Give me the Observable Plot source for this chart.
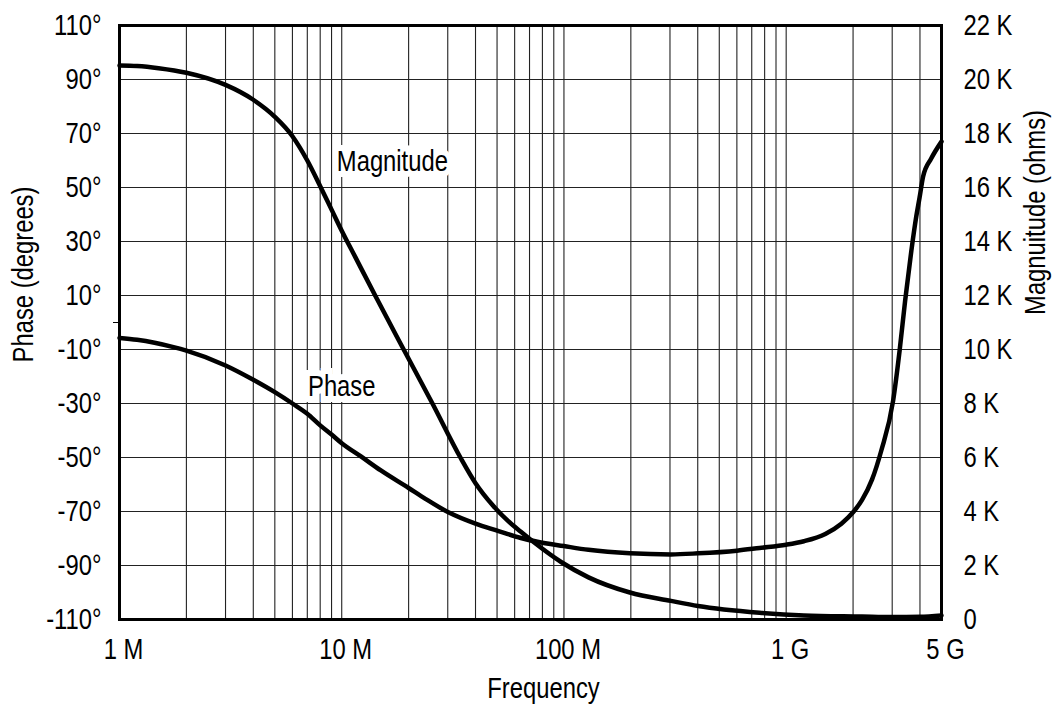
<!DOCTYPE html>
<html>
<head>
<meta charset="utf-8">
<script src="https://cdn.jsdelivr.net/npm/d3@7"></script>
<script src="https://cdn.jsdelivr.net/npm/@observablehq/plot@0.6"></script>
<style>
  html, body { margin: 0; padding: 0; background: #fff; }
</style>
</head>
<body>
<div id="chart"></div>
<script>
// ---- data (frequency in MHz) ----
const magFreqMHz = [1, 1.2, 1.5, 2, 3, 4, 5, 6, 7, 8, 9, 10, 11.5, 14.2, 19, 25.6, 34.2, 40, 47.6, 56, 64, 73.5, 97.5, 129, 198, 303, 401, 759, 1202, 2192, 3000, 4000, 5000];
const magKOhm    = [20.52, 20.5, 20.42, 20.25, 19.8, 19.25, 18.62, 17.9, 17.0, 16.05, 15.18, 14.4, 13.43, 11.97, 10.0, 8.0, 6.0, 5.05, 4.25, 3.65, 3.25, 2.85, 2.12, 1.56, 1.0, 0.69, 0.5, 0.25, 0.15, 0.11, 0.09, 0.1, 0.15];

const phaseFreqMHz = [1, 1.2, 1.75, 2, 3, 4, 5, 6, 7, 8, 9, 10, 12.2, 15, 20, 23.8, 30.2, 40, 49.7, 64, 76, 100, 129, 198, 303, 401, 600, 759, 1000, 1202, 1500, 1772, 2000, 2192, 2436, 2680, 3030, 3240, 3430, 3660, 3850, 3985, 4130, 4500, 5000];
const phaseDeg     = [-5.7, -6.4, -9.1, -10.4, -15.9, -21.2, -25.8, -30, -33.8, -38.1, -41.5, -44.7, -49.6, -54.8, -61.3, -65.3, -70.3, -74.5, -77, -79.8, -81.2, -82.8, -84.2, -85.5, -85.9, -85.5, -84.5, -83.5, -82.3, -81, -78.3, -74.5, -70.3, -65.8, -58.1, -47.4, -28.9, -10.4, 8.1, 26.7, 39.3, 46.3, 54, 60.8, 67];

const xTickValuesMHz = [1, 10, 100, 1000, 5000];
const xTickLabels    = ["1 M", "10 M", "100 M", "1 G", "5 G"];
const phaseTicks     = [-110, -90, -70, -50, -30, -10, 10, 30, 50, 70, 90, 110];
const magTicksK      = [0, 2, 4, 6, 8, 10, 12, 14, 16, 18, 20, 22];
const magTickLabels  = ["0", "2 K", "4 K", "6 K", "8 K", "10 K", "12 K", "14 K", "16 K", "18 K", "20 K", "22 K"];
const gridDecadesMHz = [1, 10, 100, 1000];
const gridMultiples  = [1, 2, 3, 4, 5, 6, 7, 8, 9];

const curveLabels = [
  {text: "Magnitude", f: 16.9, deg: 59.7},
  {text: "Phase", f: 10.0, deg: -23.6}
];
const axisTitles = {left: "Phase (degrees)", right: "Magnuitude (ohms)", bottom: "Frequency"};

// ---- derived tables ----
const toPhase = k => -110 + k * 10; // 0..22 K maps onto -110..110 degrees
const magData = magFreqMHz.map((f, i) => ({f, p: toPhase(magKOhm[i])}));
const phaseData = phaseFreqMHz.map((f, i) => ({f, p: phaseDeg[i]}));
const gridFreqs = gridDecadesMHz.flatMap(d => gridMultiples.map(m => m * d)).filter(v => v <= 5000);
const magTickPos = magTicksK.map(toPhase);
const xTicks = xTickValuesMHz.map((v, i) => ({v, label: xTickLabels[i]}));

const font = '"Liberation Sans", Arial, Helvetica, sans-serif';
const FS = 29;

const chart = Plot.plot({
  width: 1055,
  height: 704,
  marginLeft: 119,
  marginRight: 114,
  marginTop: 25,
  marginBottom: 85,
  x: {type: "log", domain: [1, 5000], axis: null},
  y: {domain: [-110, 110], axis: null},
  style: {fontFamily: font, fontSize: FS + "px", color: "#000", background: "#fff", overflow: "visible"},
  marks: [
    Plot.ruleX(gridFreqs, {stroke: "#222", strokeWidth: 1.1}),
    Plot.ruleY(phaseTicks, {stroke: "#222", strokeWidth: 1.1}),
    Plot.line(magData, {x: "f", y: "p", stroke: "#000", strokeWidth: 4.5, curve: "monotone-x"}),
    Plot.line(phaseData, {x: "f", y: "p", stroke: "#000", strokeWidth: 4.5, curve: "monotone-x"}),
    Plot.text(curveLabels, {x: "f", y: "deg", text: "text", fill: "#000", stroke: "#fff", strokeWidth: 12, strokeLinejoin: "miter", fontSize: FS}),
    Plot.frame({stroke: "#000", strokeWidth: 3}),
    Plot.text(xTicks, {x: "v", text: "label", frameAnchor: "bottom", lineAnchor: "top", textAnchor: "middle", dy: 19, dx: 4, fontSize: FS}),
    Plot.axisY({anchor: "left", ticks: phaseTicks, tickFormat: d => `${d}°`, tickSize: 0, tickPadding: 18, label: null, fontSize: FS}),
    Plot.axisY({anchor: "left", ticks: [0], tickFormat: () => "", tickSize: 6, label: null}),
    Plot.axisY({anchor: "right", ticks: magTickPos, tickFormat: d => magTickLabels[magTickPos.indexOf(d)], tickSize: 0, tickPadding: 22, label: null, fontSize: FS}),
    Plot.text([axisTitles.left], {frameAnchor: "left", rotate: -90, textAnchor: "middle", lineAnchor: "middle", dx: -96, dy: -48, fontSize: FS}),
    Plot.text([axisTitles.right], {frameAnchor: "right", rotate: -90, textAnchor: "middle", lineAnchor: "middle", dx: 94, dy: -110, fontSize: FS}),
    Plot.text([axisTitles.bottom], {frameAnchor: "bottom", textAnchor: "middle", lineAnchor: "middle", dx: 13, dy: 69, fontSize: FS})
  ]
});
document.getElementById("chart").appendChild(chart);

// Condense the glyphs horizontally to imitate the narrow typeface of the original
chart.querySelectorAll("text").forEach(t => {
  if (!t.textContent) return;
  const len = t.getComputedTextLength();
  if (len > 0) {
    t.setAttribute("textLength", (len * 0.82).toFixed(2));
    t.setAttribute("lengthAdjust", "spacingAndGlyphs");
  }
});
</script>
</body>
</html>
